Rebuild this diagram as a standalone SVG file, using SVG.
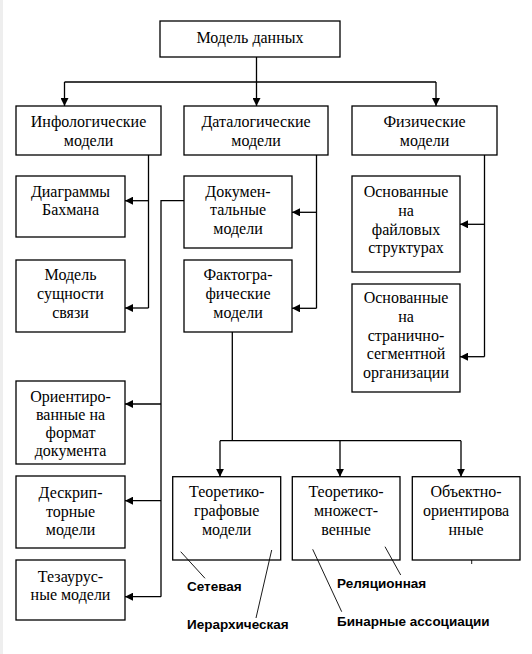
<svg xmlns="http://www.w3.org/2000/svg" width="532" height="654" viewBox="0 0 532 654">
<defs>
<marker id="ah" viewBox="0 0 10 10" refX="10" refY="5" markerWidth="8" markerHeight="8" markerUnits="userSpaceOnUse" orient="auto">
<path d="M0,0 L10,5 L0,10 z" fill="#000"/>
</marker>
</defs>
<style>
.box{fill:#fff;stroke:#000;stroke-width:1.3}
.t{font-family:"Liberation Serif","DejaVu Serif","Times New Roman",serif;font-size:16px;fill:#000;text-anchor:middle}
.c{fill:none;stroke:#000;stroke-width:1.3}
.ca{fill:none;stroke:#000;stroke-width:1.3;marker-end:url(#ah)}
.l{fill:none;stroke:#000;stroke-width:0.9}
.b{font-family:"Liberation Sans",Arial,sans-serif;font-size:13.5px;font-weight:bold;fill:#000}
</style>
<rect width="532" height="654" fill="#fff"/>
<rect x="0" y="0" width="3" height="654" fill="#eeeeee"/>
<g id="connectors">
<path class="c" d="M256.5,57 V82 M64.5,82 H436"/>
<path class="ca" d="M64.5,82 V106"/>
<path class="ca" d="M256.5,82 V106"/>
<path class="ca" d="M436,82 V106"/>
<path class="c" d="M148.5,155 V308"/>
<path class="ca" d="M148.5,200.7 H125"/>
<path class="ca" d="M148.5,308 H125"/>
<path class="c" d="M316.5,155 V308.3"/>
<path class="ca" d="M316.5,212.3 H292"/>
<path class="ca" d="M316.5,308.3 H292"/>
<path class="c" d="M484.5,155 V356.7"/>
<path class="ca" d="M484.5,224.3 H460"/>
<path class="ca" d="M484.5,356.7 H460"/>
<path class="c" d="M184,200.7 H161 V596.7"/>
<path class="ca" d="M161,404 H125"/>
<path class="ca" d="M161,500.7 H125"/>
<path class="ca" d="M161,596.7 H125"/>
<path class="c" d="M232.3,332 V440.7 M220,440.7 H461"/>
<path class="ca" d="M220,440.7 V476.7"/>
<path class="ca" d="M340,440.7 V476.7"/>
<path class="ca" d="M461,440.7 V476.7"/>
</g>
<g id="root"><rect class="box" x="160" y="21" width="180" height="36"/><text class="t" x="250" y="43">Модель данных</text></g>
<g id="infological"><rect class="box" x="16" y="106" width="145" height="49"/><text class="t" x="88.5" y="127">Инфологические</text><text class="t" x="88.5" y="146">модели</text></g>
<g id="datalogical"><rect class="box" x="184" y="106" width="144" height="49"/><text class="t" x="256" y="127">Даталогические</text><text class="t" x="256" y="146">модели</text></g>
<g id="physical"><rect class="box" x="352" y="106" width="145" height="49"/><text class="t" x="424.5" y="127">Физические</text><text class="t" x="424.5" y="146">модели</text></g>
<g id="bachman"><rect class="box" x="16" y="176" width="109" height="61"/><text class="t" x="70.5" y="197">Диаграммы</text><text class="t" x="70.5" y="215">Бахмана</text></g>
<g id="er"><rect class="box" x="16" y="260" width="109" height="72"/><text class="t" x="70.5" y="280">Модель</text><text class="t" x="70.5" y="299">сущности</text><text class="t" x="70.5" y="318">связи</text></g>
<g id="documental"><rect class="box" x="184" y="176" width="108" height="72"/><text class="t" x="238" y="197">Докумен-</text><text class="t" x="238" y="215">тальные</text><text class="t" x="238" y="234">модели</text></g>
<g id="factographic"><rect class="box" x="184" y="260" width="108" height="72"/><text class="t" x="238" y="280">Фактогра-</text><text class="t" x="238" y="299">фические</text><text class="t" x="238" y="318">модели</text></g>
<g id="filebased"><rect class="box" x="352" y="176" width="108" height="96"/><text class="t" x="406" y="197">Основанные</text><text class="t" x="406" y="216">на</text><text class="t" x="406" y="235">файловых</text><text class="t" x="406" y="253">структурах</text></g>
<g id="pagebased"><rect class="box" x="352" y="284" width="108" height="108"/><text class="t" x="406" y="303">Основанные</text><text class="t" x="406" y="322">на</text><text class="t" x="406" y="341">странично-</text><text class="t" x="406" y="359">сегментной</text><text class="t" x="406" y="378">организации</text></g>
<g id="formatoriented"><rect class="box" x="16" y="381" width="109" height="83"/><text class="t" x="70.5" y="402">Ориентиро-</text><text class="t" x="70.5" y="420">ванные на</text><text class="t" x="70.5" y="438">формат</text><text class="t" x="70.5" y="456">документа</text></g>
<g id="descriptor"><rect class="box" x="16" y="476" width="109" height="72"/><text class="t" x="70.5" y="498">Дескрип-</text><text class="t" x="70.5" y="517">торные</text><text class="t" x="70.5" y="535">модели</text></g>
<g id="thesaurus"><rect class="box" x="16" y="560" width="109" height="60"/><text class="t" x="70.5" y="582">Тезаурус-</text><text class="t" x="70.5" y="600">ные модели</text></g>
<g id="graph"><rect class="box" x="172.7" y="476.7" width="108" height="83.3"/><text class="t" x="226.7" y="497">Теоретико-</text><text class="t" x="226.7" y="516">графовые</text><text class="t" x="226.7" y="535">модели</text></g>
<g id="settheory"><rect class="box" x="292.3" y="476.7" width="107.7" height="83.3"/><text class="t" x="346" y="497">Теоретико-</text><text class="t" x="346" y="516">множест-</text><text class="t" x="346" y="535">венные</text></g>
<g id="objectoriented"><rect class="box" x="412.3" y="476.7" width="107.7" height="83.3"/><text class="t" x="466" y="497">Объектно-</text><text class="t" x="466" y="516">ориентирова</text><text class="t" x="466" y="535">нные</text></g>
<g id="annotations">
<path class="l" d="M180.7,551.7 L205,578.3"/>
<path class="l" d="M271.7,550 L256,618"/>
<path class="l" d="M312.7,549.3 L341.7,611.7"/>
<path class="l" d="M385,546.7 L400.7,575"/>
<path class="l" d="M471.7,560 V564"/>
<text class="b" x="187" y="590.5">Сетевая</text>
<text class="b" x="187" y="629">Иерархическая</text>
<text class="b" x="337" y="588">Реляционная</text>
<text class="b" x="337" y="626">Бинарные ассоциации</text>
</g>
</svg>
